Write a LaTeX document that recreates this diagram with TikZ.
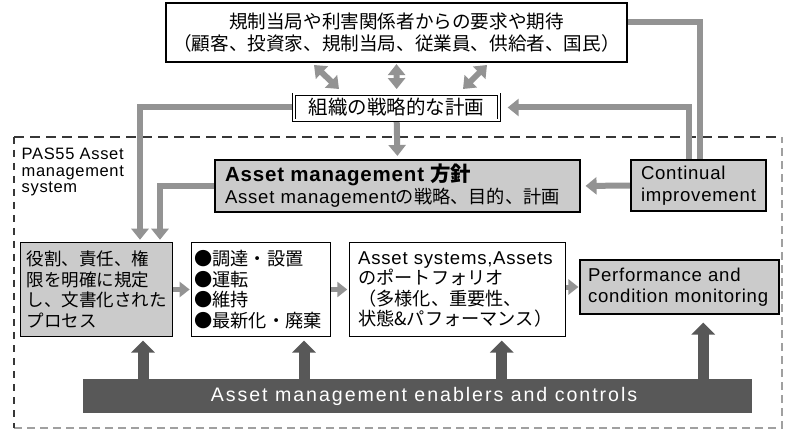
\documentclass[tikz,border=0pt]{standalone}
\usepackage{fontspec}
\setmainfont{Liberation Sans}[LetterSpace=4]
\newfontfamily\jpfam{Noto Sans CJK JP}
\newfontfamily\barfam{Liberation Sans}[LetterSpace=10]
\newcommand\jptext[1]{{\jpfam\fontsize{18.2}{20.5}\selectfont #1}}
\usetikzlibrary{arrows.meta,backgrounds}
\definecolor{boxgray}{RGB}{203,203,203}
\definecolor{bardark}{RGB}{88,88,88}
\definecolor{arrowgray}{RGB}{147,147,147}
\definecolor{dashdark}{RGB}{55,55,55}
\definecolor{dashlight}{RGB}{160,160,160}
\begin{document}
\begin{tikzpicture}[x=1pt,y=-1pt,
  box/.style={draw=black, line width=1.1pt, inner ysep=0pt, align=left},
  graybox/.style={box, fill=boxgray},
  whitebox/.style={box, fill=white},
  garrow/.style={draw=arrowgray, line width=6pt, -{Triangle[width=17pt,length=11pt]}},
  sarrow/.style={draw=arrowgray, line width=5pt, -{Triangle[width=15pt,length=10pt]}},
  gline/.style={draw=arrowgray, line width=6pt},
  dblarrow/.style={draw=arrowgray, line width=6pt, {Triangle[width=17pt,length=11pt]}-{Triangle[width=17pt,length=11pt]}},
  uparrow/.style={draw=bardark, line width=11pt, -{Triangle[width=23pt,length=12pt]}},
]
\useasboundingbox (0,0) rectangle (792,430);

% nodes
\node[box, line width=2.2pt, minimum width=461pt, minimum height=59pt, align=center,
      font=\fontsize{18.6}{22}\selectfont\jpfam] (top) at (396.5,32.5)
  {規制当局や利害関係者からの要求や期待\\（顧客、投資家、規制当局、従業員、供給者、国民）};

\node[draw=black, double, double distance=2pt, line width=0.9pt, fill=white,
      minimum width=205pt, minimum height=26pt, inner sep=0pt,
      font=\fontsize{19.5}{22}\selectfont\jpfam] (plan) at (396.7,107.5) {組織の戦略的な計画};

\node[anchor=north west, inner sep=0pt, align=left, font=\fontsize{16.5}{16.5}\selectfont] (pas)
  at (21.5,148) {PAS55 Asset\\management\\system};

\node[graybox, minimum width=365pt, minimum height=52pt, text width=345pt, inner xsep=10pt,
      font=\fontsize{18.6}{22}\selectfont] (am) at (397.5,186)
  {{\fontsize{20.5}{22}\selectfont\bfseries Asset management {\jpfam 方針}}\\
   Asset management\jptext{の戦略、目的、計画}};

\node[graybox, minimum width=135pt, minimum height=51pt, text width=115pt, inner xsep=10pt,
      font=\fontsize{18.6}{21.5}\selectfont] (ci) at (698.5,185.5) {Continual\\improvement};

\node[graybox, minimum width=152pt, minimum height=94.4pt, text width=140pt, inner xsep=6pt,
      font=\fontsize{17.5}{20.5}\selectfont\jpfam] (b1) at (96.7,289.5)
  {役割、責任、権\\限を明確に規定\\し、文書化された\\プロセス};

\node[whitebox, minimum width=139pt, minimum height=94.4pt, text width=134pt, inner xsep=2.5pt,
      font=\fontsize{18.2}{20.5}\selectfont\jpfam] (b2) at (261.2,289.5)
  {●調達・設置\\●運転\\●維持\\●最新化・廃棄};

\node[whitebox, minimum width=215.7pt, minimum height=94.4pt, text width=198pt, inner xsep=8.7pt,
      font=\fontsize{18.6}{20.2}\selectfont] (b3) at (457.2,289.5)
  {Asset systems,Assets\\\jptext{のポートフォリオ}\\\jptext{（多様化、重要性、}\\\jptext{状態\&パフォーマンス）}};

\node[graybox, minimum width=199pt, minimum height=54pt, text width=183pt, inner xsep=8pt,
      font=\fontsize{18.6}{20.5}\selectfont] (b4) at (679.5,287) {Performance and\\condition monitoring};

\node[fill=bardark, minimum width=669pt, minimum height=34pt, inner sep=0pt, text=white,
      font=\barfam\fontsize{19.6}{22}\selectfont] (bar) at (417.5,396)
  {\hspace*{13pt}Asset management enablers and controls};

% helper coordinates
\coordinate (d1t) at (314,65);
\coordinate (d1b) at (339,89);
\coordinate (d3t) at (487,65);
\coordinate (d3b) at (463,89);
\coordinate (xA) at (140,0);
\coordinate (xB) at (160,0);
\coordinate (cTop) at (700,22);
\coordinate (cPl) at (689,0);
\coordinate (u1) at (143,0);
\coordinate (u2) at (304,0);
\coordinate (u3) at (501.7,0);
\coordinate (u4) at (703.3,0);
\coordinate (dTL) at (14,137);
\coordinate (dTR) at (782,137);
\coordinate (dBR) at (782,428);
\coordinate (dBL) at (14,428);

\begin{pgfonlayer}{background}
  % dashed system boundary
  \draw[dashlight, line width=1.3pt, dash pattern=on 8pt off 5pt] (dBL) -- (dBR) -- (dTR);
  \draw[dashdark, line width=2pt, dash pattern=on 10pt off 6pt] (dTL) -- (dTR);
  \draw[dashdark, line width=2pt, dash pattern=on 7pt off 6pt] (dTL) -- (dBL);

  % top <-> plan
  \draw[dblarrow] (d1t) -- (d1b);
  \draw[dblarrow, shorten <=1pt, shorten >=5pt] (top.south) -- (plan.north);
  \draw[dblarrow] (d3t) -- (d3b);

  % plan -> AM policy
  \draw[garrow, shorten >=3.5pt] (plan.south) -- (am.north);

  % plan -> box1, AM -> box1
  \draw[garrow, shorten >=2pt] (plan.west) -- (plan.west -| xA) -- (b1.north -| xA);
  \draw[garrow, shorten >=2pt] (am.west) -- (am.west -| xB) -- (b1.north -| xB);

  % continual improvement feedback
  \draw[garrow, shorten >=5pt] (ci.west) -- (am.east);
  \draw[garrow, shorten >=8pt] (ci.north -| cPl) -- (cPl |- plan.east) -- (plan.east);
  \draw[gline] (ci.north -| cTop) -- (cTop) -- (cTop -| top.east);

  % process chain
  \draw[sarrow, shorten >=1.5pt] (b1.east) -- (b2.west);
  \draw[sarrow, shorten >=1.5pt] (b2.east) -- (b3.west);
  \draw[sarrow, shorten >=1pt] (b3.east |- b4.west) -- (b4.west);

  % enablers
  \draw[uparrow, shorten >=3.3pt] (bar.north -| u1) -- (b1.south -| u1);
  \draw[uparrow, shorten >=3.3pt] (bar.north -| u2) -- (b2.south -| u2);
  \draw[uparrow, shorten >=3.3pt] (bar.north -| u3) -- (b3.south -| u3);
  \draw[uparrow, shorten >=8pt] (bar.north -| u4) -- (b4.south -| u4);
\end{pgfonlayer}
\end{tikzpicture}
\end{document}
